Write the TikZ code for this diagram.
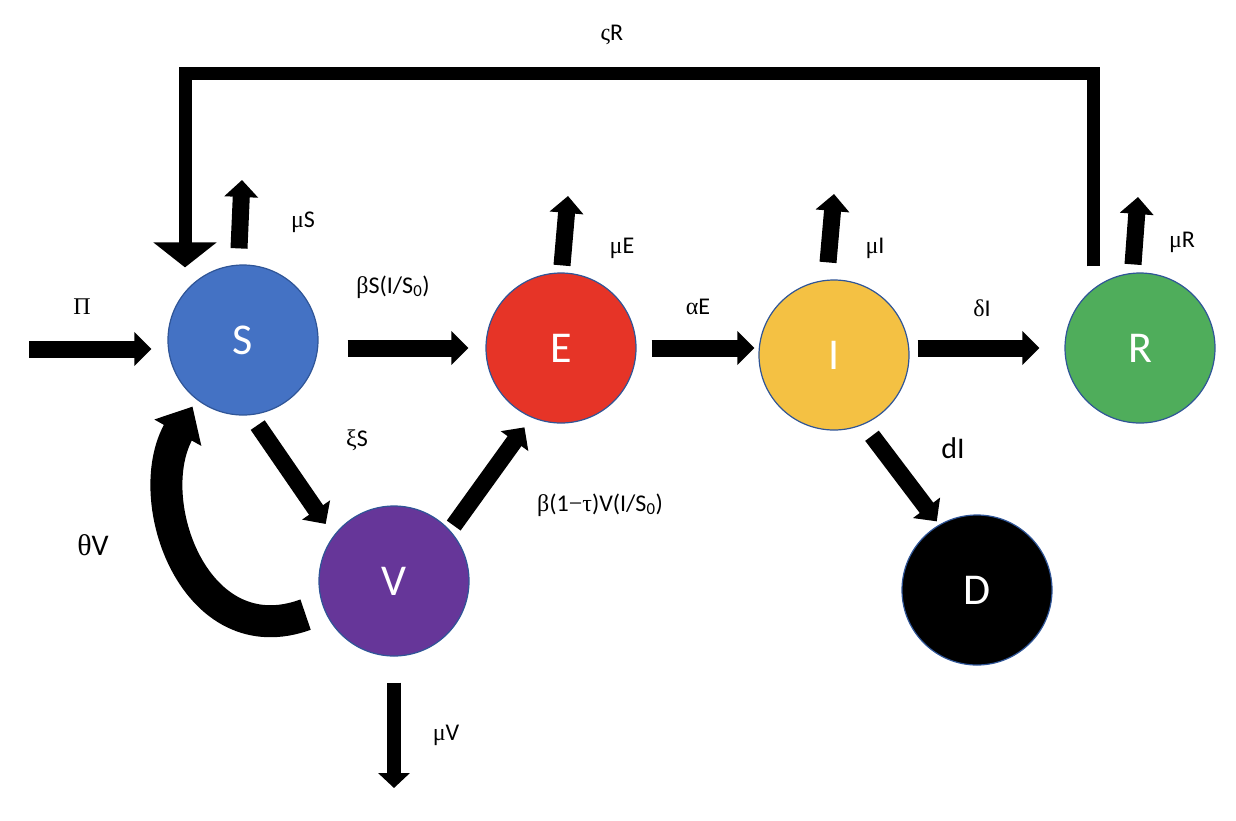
\documentclass[tikz,border=0pt]{standalone}
\usepackage{fontspec}
\setmainfont{Carlito}
\newfontfamily\grk{Liberation Serif}
\usetikzlibrary{arrows.meta}
\definecolor{sblue}{HTML}{4472C4}
\definecolor{ered}{HTML}{E63427}
\definecolor{iyellow}{HTML}{F4C143}
\definecolor{rgreen}{HTML}{4FAD5B}
\definecolor{vpurple}{HTML}{663699}
\definecolor{cborder}{HTML}{2F5597}

\begin{document}
\begin{tikzpicture}[x=1pt, y=-1pt,
  comp/.style={circle, draw=cborder, line width=1.2pt, minimum size=150pt, inner sep=0pt, text=white, font=\fontsize{44}{50}\selectfont},
  flowarr/.style={line width=17pt, -{Triangle[width=33pt,length=17pt]}},
  rate/.style={font=\fontsize{24}{28}\selectfont, inner sep=1pt}]
\useasboundingbox (0,0) rectangle (1236,820);
% compartments
\node[comp, fill=sblue] (S) at (243,340) {S};
\node[comp, fill=ered] (E) at (561,348) {E};
\node[comp, fill=iyellow] (I) at (834,355) {I};
\node[comp, fill=rgreen] (R) at (1140,348) {R};
\node[comp, fill=vpurple] (V) at (394,581) {V};
\node[comp, fill=black] (D) at (977,590) {D};
% free ends
\coordinate (birth) at (29,349);
\coordinate (muS) at (242,180);
\coordinate (muE) at (568,196);
\coordinate (muI) at (834,194);
\coordinate (muR) at (1138,197);
\coordinate (muV) at (394,788);
\coordinate (top) at (640,73);
% flows
\draw[flowarr, shorten >=16pt] (birth) -- (birth -| S.west);
\draw[flowarr, shorten <=29pt, shorten >=17pt] (S.east |- E.west) -- (E.west);
\draw[flowarr, shorten <=15pt, shorten >=4pt] (E.east) -- (E.east -| I.west);
\draw[flowarr, shorten <=8pt, shorten >=25pt] (I.east |- R.west) -- (R.west);
\draw[flowarr] ([shift={(-4,-16)}]S.north) -- (muS);
\draw[flowarr] ([shift={(1,-7)}]E.north) -- (muE);
\draw[flowarr] ([shift={(-6,-17)}]I.north) -- (muI);
\draw[flowarr] ([shift={(-7,-8)}]R.north) -- (muR);
\draw[flowarr, shorten <=12pt, shorten >=14pt] (S.-84) -- (V.143);
\draw[flowarr, shorten <=6pt, shorten >=12pt] (V.42) -- (E.-113);
\draw[flowarr, shorten <=14pt, shorten >=4pt] (I.-67) -- (D.120);
\draw[line width=14pt, -{Triangle[width=31pt,length=15pt]}, shorten <=26pt] (V.south) -- (muV);
% loss of immunity R -> S
\draw[line width=13pt, line join=miter, -{Triangle[width=62pt,length=25pt]}]
  ([shift={(-47,-6)}]R.north) |- (top) -| ([shift={(-58,3)}]S.north);
% waning vaccine V -> S
\draw[line width=32pt, -{Triangle[width=52pt,length=30pt]}, shorten <=19pt, shorten >=8pt]
  (V.-159) .. controls (195,655) and (140,500) .. (S.-128);
% rates
\node[rate] (lpi) at (82,307) {\grk Π};
\node[rate] (lmuS) at (303,222) {{\grk μ}S};
\node[rate] (linf) at (393,287) {{\grk β}S(I/S\textsubscript{0})};
\node[rate] (lmuE) at (622,248) {{\grk μ}E};
\node[rate] (lalpha) at (698,307) {{\grk α}E};
\node[rate] (lmuI) at (875,248) {{\grk μ}I};
\node[rate] (ldelta) at (982,308) {{\grk δ}I};
\node[rate] (lmuR) at (1182,242) {{\grk μ}R};
\node[rate] (lsigma) at (612,35) {{\grk ς}R};
\node[rate] (lxi) at (357,440) {{\grk ξ}S};
\node[rate] (lvacc) at (600,505) {{\grk β}(1{\grk −τ})V(I/S\textsubscript{0})};
\node[rate, font=\fontsize{30}{34}\selectfont] (ltheta) at (93,545) {{\grk θ}V};
\node[rate, font=\fontsize{30}{34}\selectfont] (ldeath) at (953,448) {dI};
\node[rate] (lmuV) at (446,735) {{\grk μ}V};
\end{tikzpicture}
\end{document}
